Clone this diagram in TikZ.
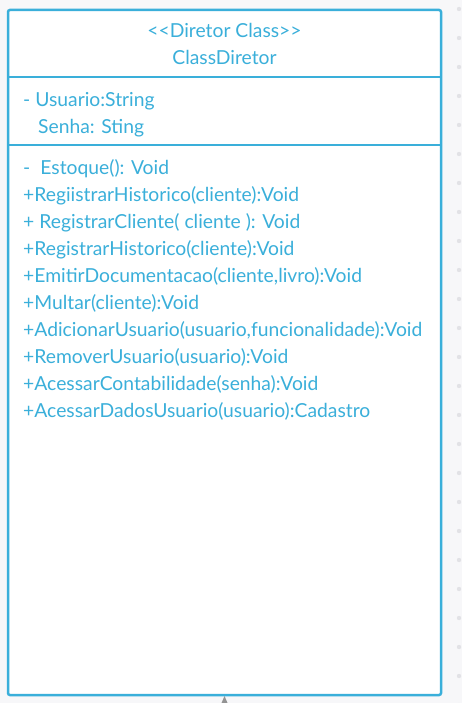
\documentclass[tikz,border=0pt]{standalone}
\usepackage{fontspec}
\setmainfont{Lato}
\definecolor{umlblue}{HTML}{3AAFDA}
\definecolor{bgcol}{HTML}{F7F7F9}
\definecolor{dotcol}{HTML}{E2E2E6}
\tikzset{
  classbox/.style={draw=umlblue, line width=2.5pt, fill=white, rounded corners=2pt},
  divider/.style={draw=umlblue, line width=2.5pt},
  umltext/.style={text=umlblue, font=\fontsize{19.3}{22}\selectfont, inner sep=0pt, anchor=base west},
  umltitle/.style={text=umlblue, font=\fontsize{19.3}{22}\selectfont, inner sep=0pt, anchor=base},
  griddot/.style={fill=dotcol, draw=none},
  pointer/.style={fill=gray!85, draw=none}
}
\begin{document}
\begin{tikzpicture}[x=1pt,y=-1pt]
\path[fill=bgcol] (0,0) rectangle (462,703);
\useasboundingbox (0,0) rectangle (462,703);
\foreach \k in {0,...,24} {\fill[griddot] (459,{9+29*\k}) circle (2.2);}
\draw[classbox] (8,10) rectangle (441,695);
\coordinate (d1l) at (8,77);
\coordinate (d1r) at (441,77);
\coordinate (d2l) at (8,145);
\coordinate (d2r) at (441,145);
\draw[divider] (d1l) -- (d1r);
\draw[divider] (d2l) -- (d2r);
\node[umltitle] (stereo) at (224.5,37.5) {<\kern0pt<Diretor Class>\kern0pt>};
\node[umltitle] (cname) at (224.5,64.5) {ClassDiretor};
\node[umltext] (a1) at (23,106.5) {- Usuario:String};
\node[umltext] (a2) at (38,133.5) {Senha: Sting};
\node[umltext] (m1) at (23,174.5) {-\hspace{0.52em}Estoque(): Void};
\node[umltext] (m2) at (23,201.5) {+RegiistrarHistorico(cliente):Void};
\node[umltext] (m3) at (23,228.5) {+ RegistrarCliente( cliente ): Void};
\node[umltext] (m4) at (23,255.5) {+RegistrarHistorico(cliente):Void};
\node[umltext] (m5) at (23,282.5) {+EmitirDocumentacao(cliente,livro):Void};
\node[umltext] (m6) at (23,309.5) {+Multar(cliente):Void};
\node[umltext] (m7) at (23,336.5) {+AdicionarUsuario(usuario,funcionalidade):Void};
\node[umltext] (m8) at (23,363.5) {+RemoverUsuario(usuario):Void};
\node[umltext] (m9) at (23,390.5) {+AcessarContabilidade(senha):Void};
\node[umltext] (m10) at (23,417.5) {+AcessarDadosUsuario(usuario):Cadastro};
\coordinate (tip) at (224.5,696);
\fill[pointer] (tip) -- (227.5,703) -- (221.5,703) -- cycle;
\end{tikzpicture}
\end{document}
